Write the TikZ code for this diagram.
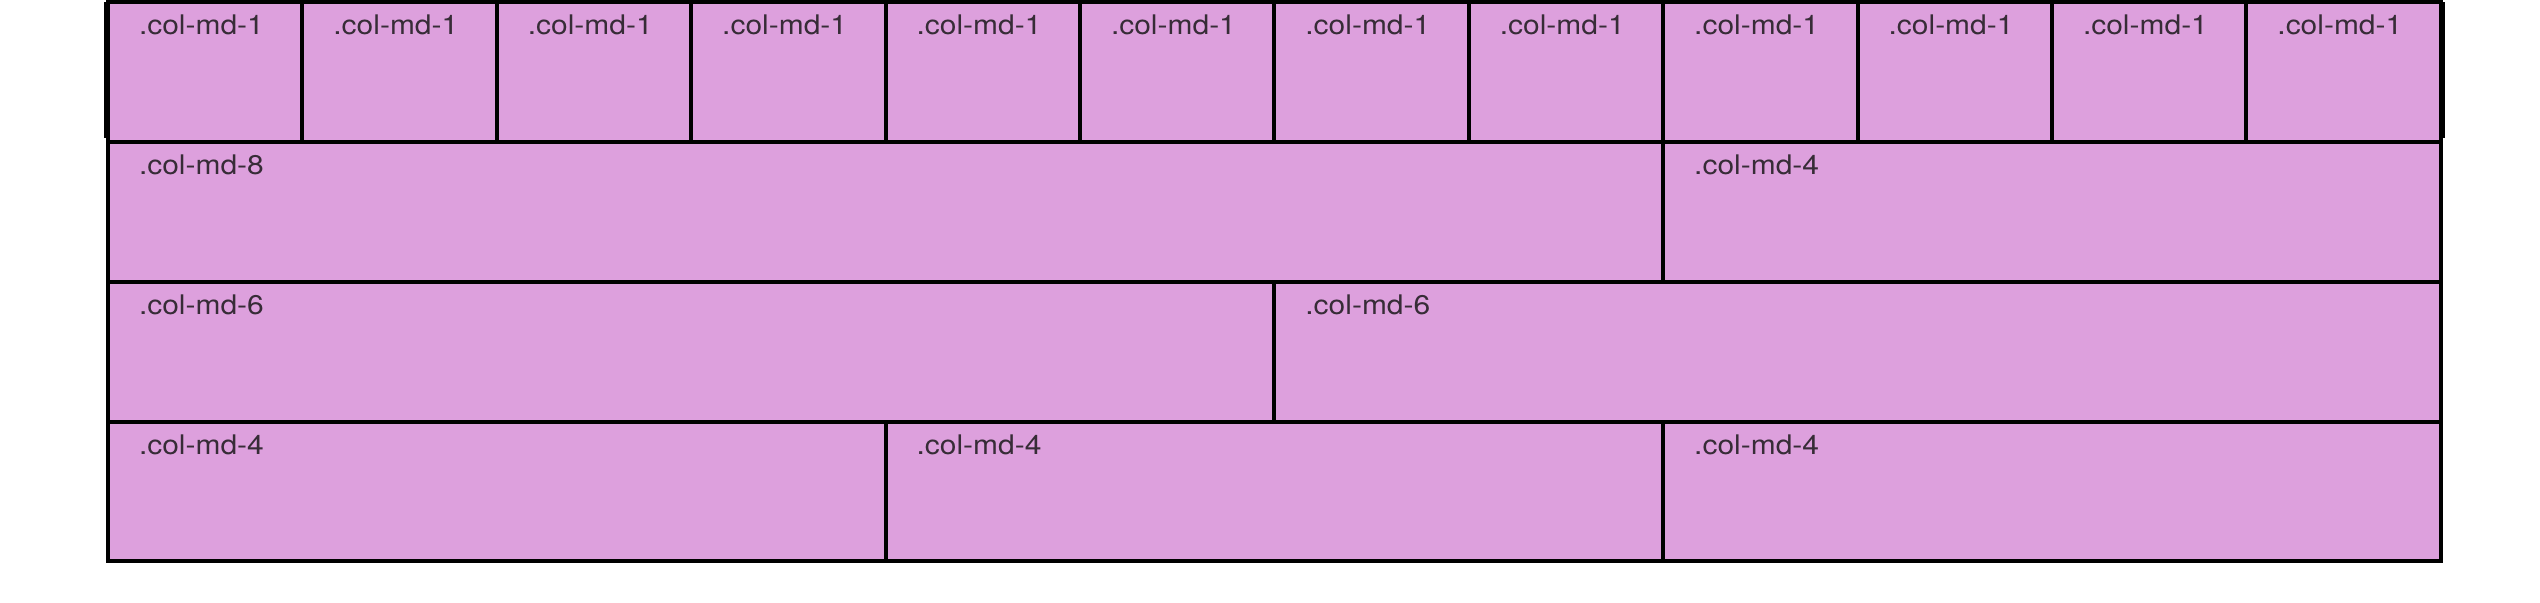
\documentclass[tikz,border=0pt]{standalone}
\usepackage{fontspec}
\setmainfont{TeX Gyre Heros}
\definecolor{cellfill}{RGB}{221,160,221}
\definecolor{txtc}{RGB}{55,44,55}
\newcommand\gcell[6]{%
  \pgfmathsetmacro\gxa{108+194.4*#2}%
  \pgfmathsetmacro\gxb{108+194.4*#3}%
  \pgfmathsetmacro\gcw{(\gxb-\gxa)*0.5}%
  \pgfmathsetmacro\gch{(#5-#4)*0.5}%
  \node[cellbox, minimum width=\gcw pt, minimum height=\gch pt] (#1) at ({(\gxa+\gxb)/2},{(#4+#5)/2}) {};
  \node[lab] (#1t) at ([shift={(31,32)}]#1.north west) {\scalebox{1.11}[1]{#6}};
}
\begin{document}
\begin{tikzpicture}[x=0.5pt,y=-0.5pt,
  cellbox/.style={rectangle, draw=black, fill=cellfill, line width=2pt, inner sep=0pt, outer sep=0pt},
  lab/.style={anchor=base west, inner sep=0pt, outer sep=0pt, text=txtc, font=\fontsize{13.5pt}{16pt}\selectfont},
  frameline/.style={draw=black, line width=1pt}]
\useasboundingbox (0,0) rectangle (2540,602);
% row 1
\gcell{a1}{0}{1}{2}{142}{.col-md-1}
\gcell{a2}{1}{2}{2}{142}{.col-md-1}
\gcell{a3}{2}{3}{2}{142}{.col-md-1}
\gcell{a4}{3}{4}{2}{142}{.col-md-1}
\gcell{a5}{4}{5}{2}{142}{.col-md-1}
\gcell{a6}{5}{6}{2}{142}{.col-md-1}
\gcell{a7}{6}{7}{2}{142}{.col-md-1}
\gcell{a8}{7}{8}{2}{142}{.col-md-1}
\gcell{a9}{8}{9}{2}{142}{.col-md-1}
\gcell{a10}{9}{10}{2}{142}{.col-md-1}
\gcell{a11}{10}{11}{2}{142}{.col-md-1}
\gcell{a12}{11}{12}{2}{142}{.col-md-1}
% row 2
\gcell{b1}{0}{8}{142}{282}{.col-md-8}
\gcell{b2}{8}{12}{142}{282}{.col-md-4}
% row 3
\gcell{c1}{0}{6}{282}{422}{.col-md-6}
\gcell{c2}{6}{12}{282}{422}{.col-md-6}
% row 4
\gcell{d1}{0}{4}{422}{561}{.col-md-4}
\gcell{d2}{4}{8}{422}{561}{.col-md-4}
\gcell{d3}{8}{12}{422}{561}{.col-md-4}
% outer frame of the first row
\coordinate (fl1) at ([shift={(-3,0)}]a1.north west);
\coordinate (fl2) at ([shift={(-3,-4)}]a1.south west);
\coordinate (fr1) at ([shift={(3,0)}]a12.north east);
\coordinate (fr2) at ([shift={(3,-4)}]a12.south east);
\draw[frameline] (fl1) -- (fl2);
\draw[frameline] (fr1) -- (fr2);
\end{tikzpicture}
\end{document}
